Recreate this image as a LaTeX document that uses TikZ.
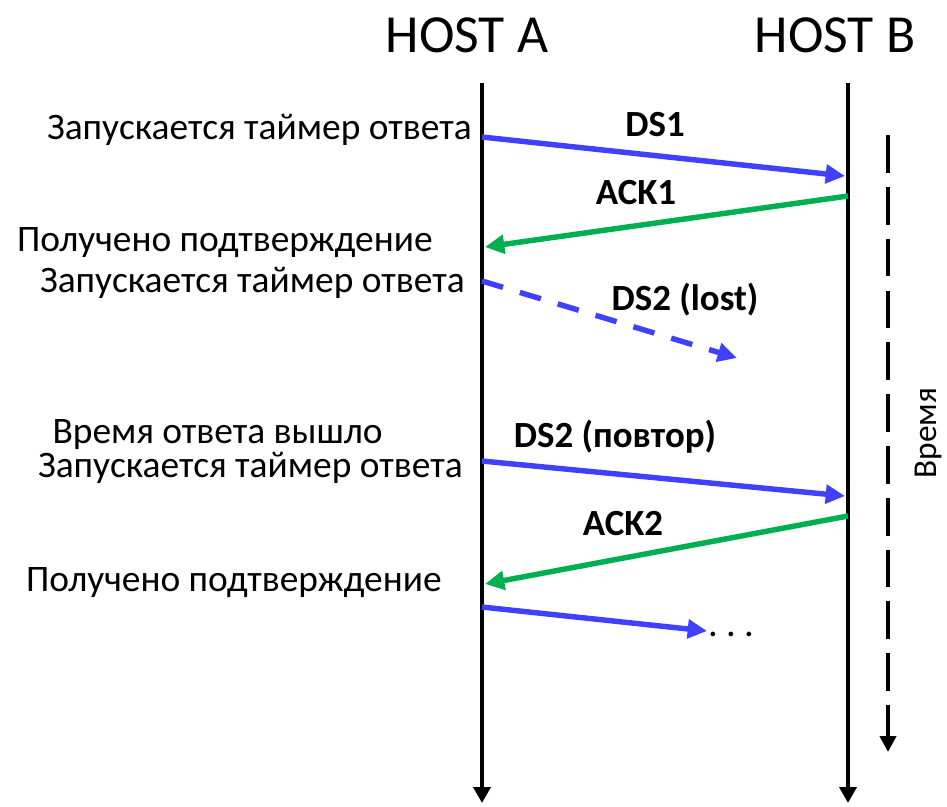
\documentclass[tikz,border=0pt]{standalone}
\usepackage{fontspec}
\setmainfont{Carlito}
\usetikzlibrary{arrows.meta}
\definecolor{msgblue}{RGB}{64,64,255}
\definecolor{msggreen}{RGB}{0,176,80}
\begin{document}
\begin{tikzpicture}[x=0.02cm, y=-0.02cm,
    lifeline/.style={line width=2.8pt, -{Triangle[length=9pt,width=9.5pt]}},
    msg/.style={line width=3.1pt, -{Triangle[length=11pt,width=10.5pt]}},
    hosttxt/.style={font=\fontsize{30.5}{36}\selectfont, inner sep=0pt},
    evtxt/.style={font=\fontsize{21.3}{25}\selectfont, inner sep=0pt, anchor=east},
    msgtxt/.style={font=\fontsize{21}{25}\selectfont\bfseries, inner sep=0pt}]
    \useasboundingbox (0,0) rectangle (947,806);
    \node(hostA) at (467,35) [hosttxt] {HOST A};
    \node(hostB) at (835,35) [hosttxt] {HOST B};
    \coordinate(Atop) at (482,83);
    \coordinate(Abot) at (482,803);
    \coordinate(Btop) at (848,83);
    \coordinate(Bbot) at (848,803);
    \draw[lifeline] (Atop) -- (Abot);
    \draw[lifeline] (Btop) -- (Bbot);
    % events on host A
    \node(ev1) at (472,130) [evtxt] {Запускается таймер ответа};
    \node(ev2) at (433,243) [evtxt] {Получено подтверждение};
    \node(ev3) at (465,283) [evtxt] {Запускается таймер ответа};
    \node(ev4) at (383,434) [evtxt] {Время ответа вышло};
    \node(ev5) at (463,468) [evtxt] {Запускается таймер ответа};
    \node(ev6) at (442,583) [evtxt] {Получено подтверждение};
    % message ends
    \coordinate(ds1s) at (482,137);
    \coordinate(ds1e) at (845,176);
    \coordinate(ack1s) at (848,196);
    \coordinate(ack1e) at (485,247);
    \coordinate(ds2s) at (482,281);
    \coordinate(ds2e) at (737,358);
    \coordinate(ds3s) at (482,461);
    \coordinate(ds3e) at (845,496);
    \coordinate(ack2s) at (848,516);
    \coordinate(ack2e) at (485,584);
    \coordinate(ds4s) at (482,607);
    \coordinate(ds4e) at (707,631);
    \draw[msg, msgblue] (ds1s) -- (ds1e);
    \draw[msg, msggreen] (ack1s) -- (ack1e);
    \draw[msg, msgblue, dash pattern=on 12.5pt off 10pt] (ds2s) -- (ds2e);
    \draw[msg, msgblue] (ds3s) -- (ds3e);
    \draw[msg, msggreen] (ack2s) -- (ack2e);
    \draw[msg, msgblue] (ds4s) -- (ds4e);
    \node(lds1) at (655,125) [msgtxt] {DS1};
    \node(lack1) at (636,193) [msgtxt] {ACK1};
    \node(lds2) at (685,300) [msgtxt] {DS2 (lost)};
    \node(lds3) at (615,437) [msgtxt] {DS2 (повтор)};
    \node(lack2) at (623,524) [msgtxt] {ACK2};
    \node(dots) at (731,634) [font=\fontsize{22}{26}\selectfont] {.\,\kern1pt.\,\kern1pt.};
    % time axis
    \coordinate(ttop) at (888,135);
    \coordinate(tbot) at (888,752);
    \draw[line width=2.8pt, dash pattern=on 21.5pt off 8pt, -{Triangle[length=9pt,width=9pt]}] (ttop) -- (tbot);
    \node(time) at (928,433) [rotate=90, font=\fontsize{19}{22}\selectfont, inner sep=0pt] {Время};
\end{tikzpicture}
\end{document}
